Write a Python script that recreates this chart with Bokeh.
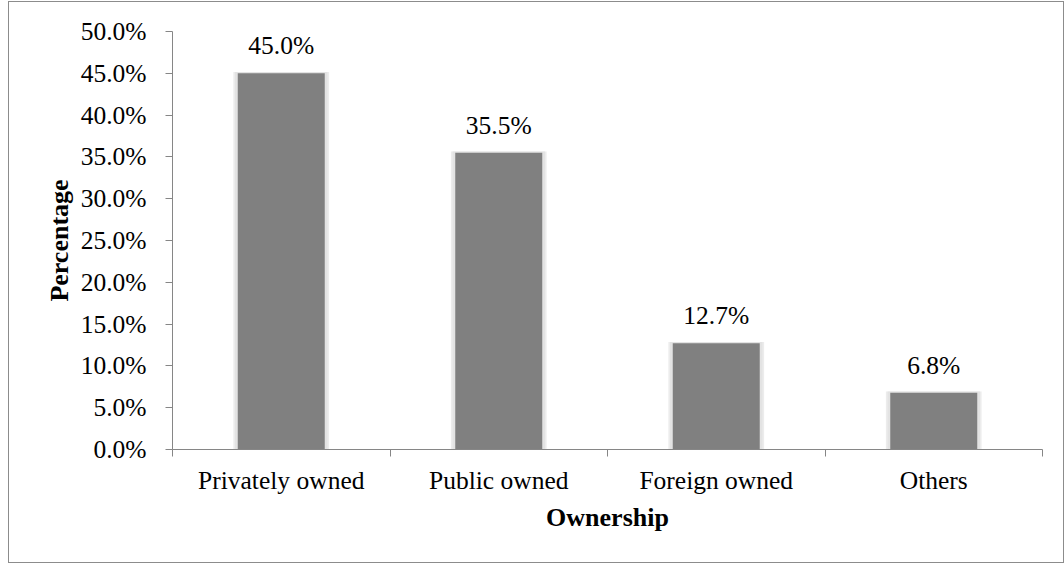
from bokeh.plotting import figure
from bokeh.models import (ColumnDataSource, LabelSet, FixedTicker, PrintfTickFormatter, Range1d)
from bokeh.embed import file_html
from bokeh.resources import INLINE

categories = ["Privately owned", "Public owned", "Foreign owned", "Others"]
values = [45.0, 35.5, 12.7, 6.8]
value_labels = ["45.0%", "35.5%", "12.7%", "6.8%"]
y_ticks = [0, 5, 10, 15, 20, 25, 30, 35, 40, 45, 50]

xs = [i + 0.5 for i in range(len(categories))]
src = ColumnDataSource(dict(x=xs, top=values, lab=value_labels,
                            shadow_top=[v + 0.15 for v in values]))

FONT = "Liberation Serif"
FS = "25.5px"
AX = "#868686"

p = figure(width=1056, height=562, output_backend="svg", toolbar_location=None,
           x_range=Range1d(0, len(categories)), y_range=Range1d(0, 50),
           min_border_left=163, min_border_right=23, min_border_top=29, min_border_bottom=115)
p.styles = {"border": "1px solid #8c8c8c", "margin-left": "8px", "margin-top": "1px"}
p.outline_line_color = None
p.xgrid.visible = False
p.ygrid.visible = False
p.background_fill_color = "white"
p.border_fill_color = "white"

# shadow
p.vbar(x="x", top="shadow_top", width=0.44, bottom=0, source=src,
       fill_color="#ececec", line_color=None)
p.vbar(x="x", top="shadow_top", width=0.425, bottom=0, source=src,
       fill_color="#e3e3e3", line_color=None)
p.vbar(x="x", top="top", width=0.4, bottom=0, source=src,
       fill_color="#808080", line_color=None)

labels = LabelSet(x="x", y="top", text="lab", source=src, text_align="center",
                  text_baseline="alphabetic", y_offset=19,
                  text_font=FONT, text_font_size=FS, text_color="black")
p.add_layout(labels)

# y axis
yax = p.yaxis[0]
yax.ticker = FixedTicker(ticks=y_ticks)
yax.formatter = PrintfTickFormatter(format="%.1f%%")
yax.axis_label = "Percentage"
yax.axis_label_text_font = FONT
yax.axis_label_text_font_style = "bold"
yax.axis_label_text_font_size = "26px"
yax.axis_label_text_color = "black"
yax.axis_label_standoff = 4
yax.major_label_text_font = FONT
yax.major_label_text_font_size = FS
yax.major_label_text_color = "black"
yax.major_label_standoff = 19
yax.axis_line_color = AX
yax.major_tick_line_color = AX
yax.major_tick_in = 0
yax.major_tick_out = 7
yax.minor_tick_line_color = None

# x axis
xax = p.xaxis[0]
xax.ticker = FixedTicker(ticks=xs, minor_ticks=list(range(len(categories) + 1)))
xax.major_label_overrides = {x: c for x, c in zip(xs, categories)}
xax.axis_label = "Ownership"
xax.axis_label_text_font = FONT
xax.axis_label_text_font_style = "bold"
xax.axis_label_text_font_size = "26px"
xax.axis_label_text_color = "black"
xax.axis_label_standoff = 5
xax.major_label_text_font = FONT
xax.major_label_text_font_size = FS
xax.major_label_text_color = "black"
xax.major_label_standoff = 9
xax.axis_line_color = AX
xax.major_tick_line_color = None
xax.major_tick_in = 0
xax.major_tick_out = 0
xax.minor_tick_line_color = AX
xax.minor_tick_in = 0
xax.minor_tick_out = 7

open("out.html", "w").write(file_html(p, INLINE))
